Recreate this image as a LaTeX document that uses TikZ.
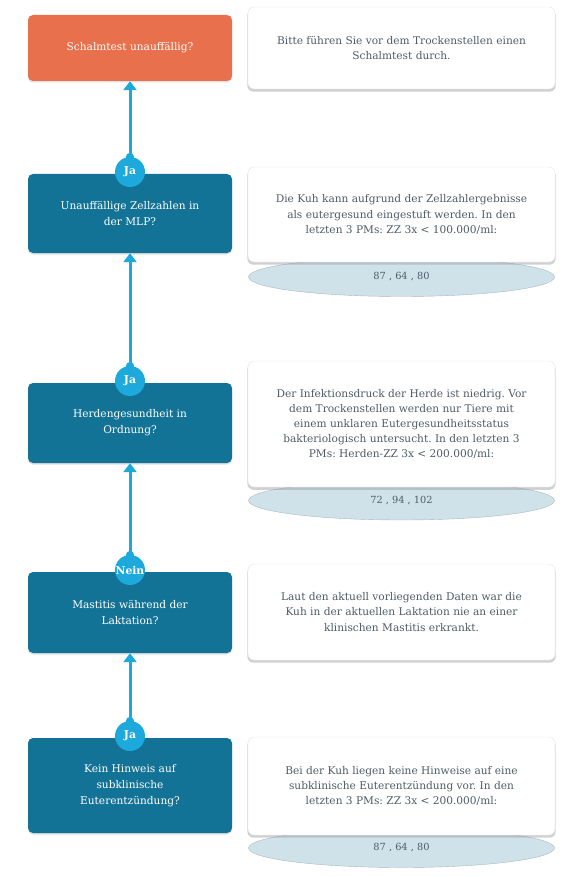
\documentclass[tikz,border=0pt]{standalone}
\usepackage{fontspec}
\setmainfont{DejaVu Serif}
\usepackage{xcolor}
\usepackage{tikz}
\usetikzlibrary{shapes.geometric, arrows.meta, positioning, shadows}

\definecolor{qorange}{HTML}{E8704D}
\definecolor{qblue}{HTML}{137396}
\definecolor{linkblue}{HTML}{1DA9DB}
\definecolor{valfill}{HTML}{CFE2E9}
\definecolor{valdraw}{HTML}{A9B9C1}
\definecolor{infotext}{HTML}{4E5B66}
\frenchspacing

\begin{document}
\begin{tikzpicture}[x=1pt, y=-1pt,
  question/.style={rounded corners=5pt, minimum width=204pt, inner sep=0pt,
              fill=qblue, text=white, align=center, font=\fontsize{10.6}{15.8}\selectfont,
              drop shadow={shadow xshift=0pt, shadow yshift=-1.5pt, fill=black!25, opacity=0.5}},
  info/.style={draw=black!10, rounded corners=6pt, minimum width=307pt, inner sep=0pt,
              fill=white, text=infotext, align=center, font=\fontsize{10.6}{15.2}\selectfont,
              drop shadow={shadow xshift=0pt, shadow yshift=-2.5pt, shadow scale=1.004,
                           fill=black!40, opacity=0.45}},
  val/.style={ellipse, draw=valdraw, fill=valfill, minimum width=306pt, minimum height=39pt,
              inner sep=0pt, text=infotext, font=\fontsize{9.8}{12}\selectfont},
  answer/.style={circle, fill=linkblue, minimum size=30pt, inner sep=0pt,
              text=white, font=\fontsize{10.8}{12}\selectfont\bfseries},
  link/.style={{Circle[length=8pt]}-{Triangle[width=13pt, length=9pt]}, line width=3pt,
              draw=linkblue, fill=linkblue, shorten <=-4pt},
]
\useasboundingbox (0,0) rectangle (582,877);

% Questions (left column)
\node[question, fill=qorange, minimum height=66pt] (q1) at (130, 48) {Schalmtest unauffällig?};
\node[question, minimum height=79pt] (q2) at (130, 213.5) {Unauffällige Zellzahlen in\\der MLP?};
\node[question, minimum height=80pt] (q3) at (130, 423) {Herdengesundheit in\\Ordnung?};
\node[question, minimum height=81pt] (q4) at (130, 612.5) {Mastitis während der\\Laktation?};
\node[question, minimum height=95pt] (q5) at (130, 785.5) {Kein Hinweis auf\\subklinische\\Euterentzündung?};

% Measured values (behind the info boxes)
\node[val] (val2) at (401.5, 277) {87 , 64 , 80};
\node[val] (val3) at (401.5, 500.5) {72 , 94 , 102};
\node[val] (val5) at (401.5, 848) {87 , 64 , 80};

% Info boxes (right column)
\node[info, minimum height=82pt] (info1) at (401.5, 48) {Bitte führen Sie vor dem Trockenstellen einen\\Schalmtest durch.};
\node[info, minimum height=95pt] (info2) at (401.5, 214.5) {Die Kuh kann aufgrund der Zellzahlergebnisse\\als eutergesund eingestuft werden. In den\\letzten 3 PMs: ZZ 3x < 100.000/ml:};
\node[info, minimum height=126pt] (info3) at (401.5, 424) {Der Infektionsdruck der Herde ist niedrig. Vor\\dem Trockenstellen werden nur Tiere mit\\einem unklaren Eutergesundheitsstatus\\bakteriologisch untersucht. In den letzten 3\\PMs: Herden-ZZ 3x < 200.000/ml:};
\node[info, minimum height=96pt] (info4) at (401.5, 612) {Laut den aktuell vorliegenden Daten war die\\Kuh in der aktuellen Laktation nie an einer\\klinischen Mastitis erkrankt.};
\node[info, minimum height=98pt] (info5) at (401.5, 786) {Bei der Kuh liegen keine Hinweise auf eine\\subklinische Euterentzündung vor. In den\\letzten 3 PMs: ZZ 3x < 200.000/ml:};

% Answers and links
\coordinate (a2) at (130, 172);
\coordinate (a3) at (130, 381);
\coordinate (a4) at (130, 570);
\coordinate (a5) at (130, 736);
\draw[link] ([yshift=15pt]a2) -- (q1.south);
\draw[link] ([yshift=15pt]a3) -- (q2.south);
\draw[link] ([yshift=15pt]a4) -- (q3.south);
\draw[link] ([yshift=15pt]a5) -- (q4.south);
\node[answer] (ans2) at (a2) {Ja};
\node[answer] (ans3) at (a3) {Ja};
\node[answer] (ans4) at (a4) {Nein};
\node[answer] (ans5) at (a5) {Ja};
\end{tikzpicture}
\end{document}
